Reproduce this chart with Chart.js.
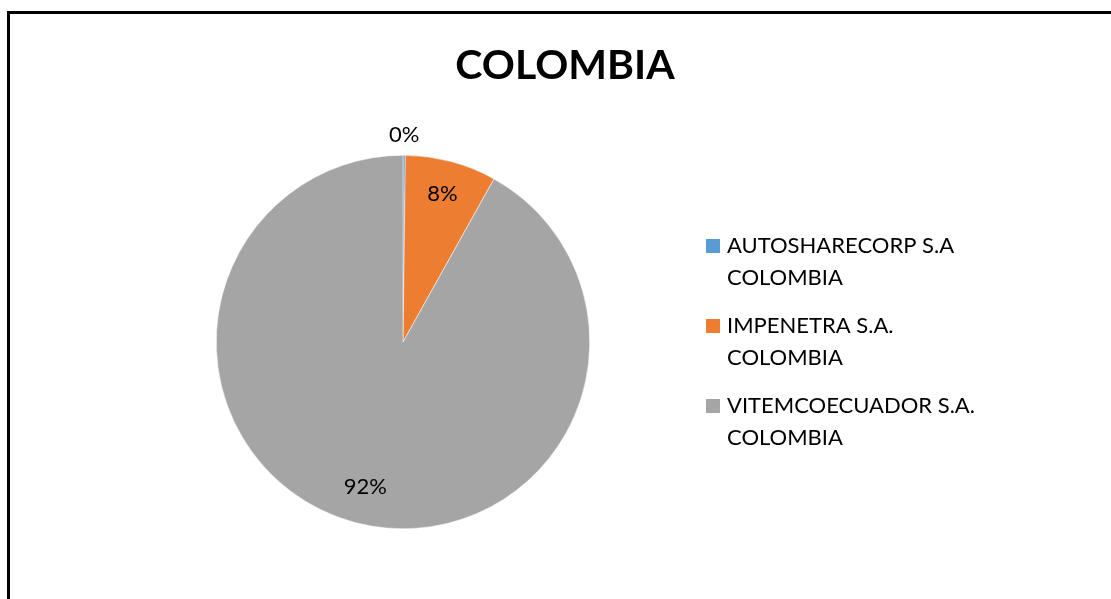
<!DOCTYPE html>
<html>
<head>
<meta charset="utf-8">
<script src="https://cdn.jsdelivr.net/npm/chart.js@4/dist/chart.umd.min.js"></script>
<style>
  html, body { margin: 0; padding: 0; background: #fff; overflow: hidden; }
  canvas { display: block; }
</style>
</head>
<body>
<canvas id="pie" width="1111" height="599"></canvas>
<script>
// data
const chartTitle = 'COLOMBIA';
const companies = [
  ['AUTOSHARECORP S.A', 'COLOMBIA'],
  ['IMPENETRA S.A.', 'COLOMBIA'],
  ['VITEMCOECUADOR S.A.', 'COLOMBIA']
];
const shares = [0.2, 7.9, 91.9];
const colors = ['#5B9BD5', '#ED7D31', '#A5A5A5'];

// how far out each % label sits, as a fraction of the radius
const labelRadius = [1.11, 0.82, 0.8];
const fontFam = 'Lato, "Open Sans", sans-serif';

const extras = {
  id: 'extras',
  beforeDraw(chart) {
    // chart frame, only left and top edges are inside the window
    const ctx = chart.ctx;
    ctx.save();
    ctx.strokeStyle = '#000';
    ctx.lineWidth = 3;
    ctx.beginPath();
    ctx.moveTo(8.5, 700);
    ctx.lineTo(8.5, 12.5);
    ctx.lineTo(1200, 12.5);
    ctx.stroke();
    ctx.restore();
  },
  afterDatasetsDraw(chart) {
    const ctx = chart.ctx;
    const meta = chart.getDatasetMeta(0);
    const total = shares.reduce((a, b) => a + b, 0);
    ctx.save();
    ctx.fillStyle = '#000';
    ctx.textAlign = 'center';
    ctx.textBaseline = 'middle';
    ctx.font = '22px ' + fontFam;
    meta.data.forEach((arc, i) => {
      const p = arc.getProps(['x', 'y', 'startAngle', 'endAngle', 'outerRadius'], true);
      const mid = (p.startAngle + p.endAngle) / 2;
      const r = p.outerRadius * labelRadius[i];
      ctx.fillText(Math.round(shares[i] / total * 100) + '%', p.x + Math.cos(mid) * r, p.y + Math.sin(mid) * r);
    });

    // title
    ctx.font = 'bold 41px ' + fontFam;
    ctx.fillText(chartTitle, 565, 66);

    // legend
    ctx.textAlign = 'left';
    ctx.font = '22px ' + fontFam;
    companies.forEach((lines, i) => {
      const y = 246 + i * 80;
      ctx.fillStyle = colors[i];
      ctx.fillRect(706, y - 7, 14, 14);
      ctx.fillStyle = '#000';
      lines.forEach((t, j) => ctx.fillText(t, 727, y + j * 32));
    });
    ctx.restore();
  }
};

new Chart(document.getElementById('pie'), {
  type: 'pie',
  data: {
    labels: companies.map(l => l.join(' ')),
    datasets: [{
      data: shares,
      backgroundColor: colors,
      borderColor: '#fff',
      borderWidth: 0.5
    }]
  },
  options: {
    responsive: false,
    animation: false,
    layout: { padding: { left: 216, right: 521, top: 155, bottom: 70 } },
    plugins: {
      legend: { display: false },
      title: { display: false },
      tooltip: { enabled: false }
    }
  },
  plugins: [extras]
});
</script>
</body>
</html>
